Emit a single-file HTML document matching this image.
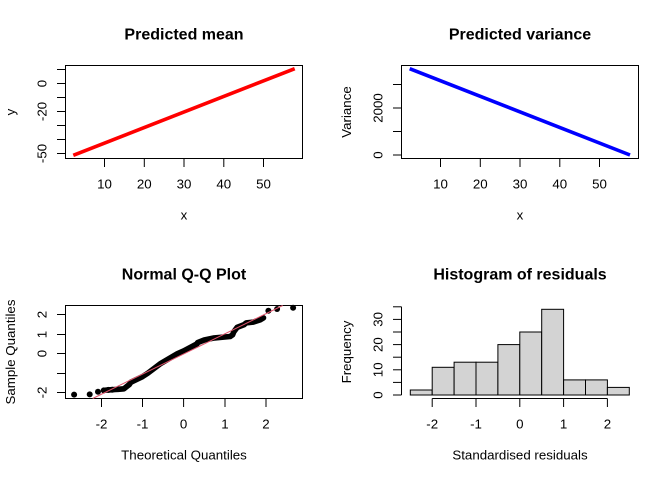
<!DOCTYPE html>
<html><head><meta charset="utf-8"><style>
html,body{margin:0;padding:0;background:#fff;}
svg{display:block;}
text{font-family:"Liberation Sans",Arial,sans-serif;fill:#000;}
.t{font-size:16px;font-weight:bold;}
.l{font-size:13.3px;}
</style></head><body>
<svg width="672" height="480" viewBox="0 0 672 480" xmlns="http://www.w3.org/2000/svg">
<rect width="672" height="480" fill="#fff"/>

<!-- Panel 1: Predicted mean -->
<text class="t" x="184" y="39.3" text-anchor="middle">Predicted mean</text>
<rect x="65.5" y="65.5" width="237" height="93" fill="none" stroke="#000" stroke-width="1"/>
<g stroke="#000" stroke-width="1">
<line x1="57" y1="69.5" x2="65.5" y2="69.5"/>
<line x1="57" y1="83.5" x2="65.5" y2="83.5"/>
<line x1="57" y1="97.5" x2="65.5" y2="97.5"/>
<line x1="57" y1="111.5" x2="65.5" y2="111.5"/>
<line x1="57" y1="125.5" x2="65.5" y2="125.5"/>
<line x1="57" y1="139.5" x2="65.5" y2="139.5"/>
<line x1="57" y1="153.5" x2="65.5" y2="153.5"/>
<line x1="104.5" y1="158.5" x2="104.5" y2="167"/>
<line x1="144.3" y1="158.5" x2="144.3" y2="167"/>
<line x1="184" y1="158.5" x2="184" y2="167"/>
<line x1="223.8" y1="158.5" x2="223.8" y2="167"/>
<line x1="263.5" y1="158.5" x2="263.5" y2="167"/>
</g>
<text class="l" x="104.5" y="188.3" text-anchor="middle">10</text>
<text class="l" x="144.3" y="188.3" text-anchor="middle">20</text>
<text class="l" x="184" y="188.3" text-anchor="middle">30</text>
<text class="l" x="223.8" y="188.3" text-anchor="middle">40</text>
<text class="l" x="263.5" y="188.3" text-anchor="middle">50</text>
<text class="l" transform="translate(46.7,83.5) rotate(-90)" text-anchor="middle">0</text>
<text class="l" transform="translate(46.7,111.5) rotate(-90)" text-anchor="middle">-20</text>
<text class="l" transform="translate(46.7,153.5) rotate(-90)" text-anchor="middle">-50</text>
<text class="l" x="184" y="219.3" text-anchor="middle">x</text>
<text class="l" transform="translate(15,112) rotate(-90)" text-anchor="middle">y</text>
<line x1="73.3" y1="155.3" x2="294.7" y2="68.7" stroke="#ff0000" stroke-width="3.6"/>

<!-- Panel 2: Predicted variance -->
<text class="t" x="520" y="39.3" text-anchor="middle">Predicted variance</text>
<rect x="401.5" y="65.5" width="237" height="93" fill="none" stroke="#000" stroke-width="1"/>
<g stroke="#000" stroke-width="1">
<line x1="393" y1="84.5" x2="401.5" y2="84.5"/>
<line x1="393" y1="108" x2="401.5" y2="108"/>
<line x1="393" y1="131.5" x2="401.5" y2="131.5"/>
<line x1="393" y1="155" x2="401.5" y2="155"/>
<line x1="440.5" y1="158.5" x2="440.5" y2="167"/>
<line x1="480.3" y1="158.5" x2="480.3" y2="167"/>
<line x1="520" y1="158.5" x2="520" y2="167"/>
<line x1="559.8" y1="158.5" x2="559.8" y2="167"/>
<line x1="599.5" y1="158.5" x2="599.5" y2="167"/>
</g>
<text class="l" x="440.5" y="188.3" text-anchor="middle">10</text>
<text class="l" x="480.3" y="188.3" text-anchor="middle">20</text>
<text class="l" x="520" y="188.3" text-anchor="middle">30</text>
<text class="l" x="559.8" y="188.3" text-anchor="middle">40</text>
<text class="l" x="599.5" y="188.3" text-anchor="middle">50</text>
<text class="l" transform="translate(382.7,155) rotate(-90)" text-anchor="middle">0</text>
<text class="l" transform="translate(382.7,108) rotate(-90)" text-anchor="middle">2000</text>
<text class="l" x="520" y="219.3" text-anchor="middle">x</text>
<text class="l" transform="translate(351,112) rotate(-90)" text-anchor="middle">Variance</text>
<line x1="409.7" y1="68.7" x2="630" y2="155" stroke="#0000ff" stroke-width="3.6"/>

<!-- Panel 3: Normal Q-Q Plot -->
<text class="t" x="184" y="279.3" text-anchor="middle">Normal Q-Q Plot</text>
<rect x="65.5" y="305.5" width="237" height="93" fill="none" stroke="#000" stroke-width="1"/>
<g stroke="#000" stroke-width="1">
<line x1="57" y1="314.5" x2="65.5" y2="314.5"/>
<line x1="57" y1="334.5" x2="65.5" y2="334.5"/>
<line x1="57" y1="353.5" x2="65.5" y2="353.5"/>
<line x1="57" y1="373.5" x2="65.5" y2="373.5"/>
<line x1="57" y1="392.5" x2="65.5" y2="392.5"/>
<line x1="101.5" y1="398.5" x2="101.5" y2="407"/>
<line x1="142.5" y1="398.5" x2="142.5" y2="407"/>
<line x1="183.6" y1="398.5" x2="183.6" y2="407"/>
<line x1="225" y1="398.5" x2="225" y2="407"/>
<line x1="266" y1="398.5" x2="266" y2="407"/>
</g>
<text class="l" x="101.5" y="428.3" text-anchor="middle">-2</text>
<text class="l" x="142.5" y="428.3" text-anchor="middle">-1</text>
<text class="l" x="183.6" y="428.3" text-anchor="middle">0</text>
<text class="l" x="225" y="428.3" text-anchor="middle">1</text>
<text class="l" x="266" y="428.3" text-anchor="middle">2</text>
<text class="l" transform="translate(46.7,314.5) rotate(-90)" text-anchor="middle">2</text>
<text class="l" transform="translate(46.7,334.5) rotate(-90)" text-anchor="middle">1</text>
<text class="l" transform="translate(46.7,353.5) rotate(-90)" text-anchor="middle">0</text>
<text class="l" transform="translate(46.7,392.5) rotate(-90)" text-anchor="middle">-2</text>
<text class="l" x="184" y="459.3" text-anchor="middle">Theoretical Quantiles</text>
<text class="l" transform="translate(15,352) rotate(-90)" text-anchor="middle">Sample Quantiles</text>
<polyline fill="none" stroke="#000" stroke-width="5.6" stroke-linejoin="round" stroke-linecap="round"
points="103.8,390.4 108.4,389.9 112.2,389.7 115.4,389.5 118.3,389.3 123.9,388.8 129.3,384.5 130.9,382.2 142.4,376.7 147.8,373.2 160.8,363.4 177.4,353.7 183.6,351.0 197.0,343.9 197.6,342.6 204.2,340.0 213.2,338.1 230.1,336.5 232.6,334.8 233.8,331.8 237.1,327.4 243.9,324.8 246.2,322.9 253.2,322.1 260.2,319.8 263.5,317.8"/>
<g fill="#000">
<circle cx="74.1" cy="394.6" r="3"/>
<circle cx="89.7" cy="394.4" r="3"/>
<circle cx="98.0" cy="391.7" r="3"/>
<circle cx="103.8" cy="390.4" r="3"/>
<circle cx="108.4" cy="389.9" r="3"/>
<circle cx="112.2" cy="389.7" r="3"/>
<circle cx="268.4" cy="310.8" r="3"/>
<circle cx="277.1" cy="309.0" r="3"/>
<circle cx="293.1" cy="307.7" r="3"/>
</g>
<line x1="92.7" y1="398.5" x2="282.7" y2="305.5" stroke="#DF536B" stroke-width="1"/>

<!-- Panel 4: Histogram -->
<text class="t" x="520" y="279.3" text-anchor="middle">Histogram of residuals</text>
<g fill="#D3D3D3" stroke="#000" stroke-width="1">
<rect x="410.3" y="390" width="21.9" height="5"/>
<rect x="432.2" y="367.3" width="21.9" height="27.7"/>
<rect x="454.1" y="362.2" width="21.9" height="32.8"/>
<rect x="476" y="362.2" width="21.9" height="32.8"/>
<rect x="497.9" y="344.6" width="21.9" height="50.4"/>
<rect x="519.8" y="332" width="21.9" height="63"/>
<rect x="541.7" y="309.3" width="21.9" height="85.7"/>
<rect x="563.6" y="379.9" width="21.9" height="15.1"/>
<rect x="585.5" y="379.9" width="21.9" height="15.1"/>
<rect x="607.4" y="387.4" width="21.9" height="7.6"/>
</g>
<g stroke="#000" stroke-width="1">
<line x1="401.5" y1="306.8" x2="401.5" y2="395"/>
<line x1="393" y1="306.8" x2="401.5" y2="306.8"/>
<line x1="393" y1="319.4" x2="401.5" y2="319.4"/>
<line x1="393" y1="332" x2="401.5" y2="332"/>
<line x1="393" y1="344.6" x2="401.5" y2="344.6"/>
<line x1="393" y1="357.2" x2="401.5" y2="357.2"/>
<line x1="393" y1="369.8" x2="401.5" y2="369.8"/>
<line x1="393" y1="382.4" x2="401.5" y2="382.4"/>
<line x1="393" y1="395" x2="401.5" y2="395"/>
<line x1="432.2" y1="398.5" x2="607.4" y2="398.5"/>
<line x1="432.2" y1="398.5" x2="432.2" y2="407"/>
<line x1="476" y1="398.5" x2="476" y2="407"/>
<line x1="519.8" y1="398.5" x2="519.8" y2="407"/>
<line x1="563.6" y1="398.5" x2="563.6" y2="407"/>
<line x1="607.4" y1="398.5" x2="607.4" y2="407"/>
</g>
<text class="l" x="432.2" y="428.3" text-anchor="middle">-2</text>
<text class="l" x="476" y="428.3" text-anchor="middle">-1</text>
<text class="l" x="519.8" y="428.3" text-anchor="middle">0</text>
<text class="l" x="563.6" y="428.3" text-anchor="middle">1</text>
<text class="l" x="607.4" y="428.3" text-anchor="middle">2</text>
<text class="l" transform="translate(382.7,395) rotate(-90)" text-anchor="middle">0</text>
<text class="l" transform="translate(382.7,369.8) rotate(-90)" text-anchor="middle">10</text>
<text class="l" transform="translate(382.7,344.6) rotate(-90)" text-anchor="middle">20</text>
<text class="l" transform="translate(382.7,319.4) rotate(-90)" text-anchor="middle">30</text>
<text class="l" x="520" y="459.3" text-anchor="middle">Standardised residuals</text>
<text class="l" transform="translate(351,352) rotate(-90)" text-anchor="middle">Frequency</text>
</svg>
</body></html>
